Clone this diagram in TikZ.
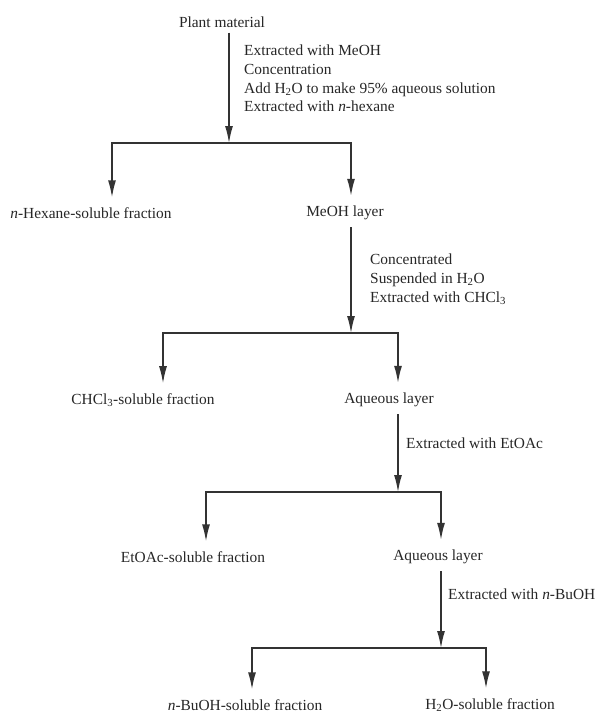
\documentclass[tikz,border=0pt]{standalone}
\usepackage{fontspec}
\setmainfont{Liberation Serif}
\usepackage{xcolor}
\usepackage{tikz}
\usetikzlibrary{arrows.meta,positioning}

\begin{document}
\begin{tikzpicture}[
  x=1pt,
  y=-1pt,
  fraction/.style={
    inner sep=0pt,
    text=black!85,
    font=\fontsize{15.4}{18}\selectfont
  },
  note/.style={
    inner sep=0pt,
    align=left,
    text=black!85,
    font=\fontsize{15.4}{18.6}\selectfont
  },
  line/.style={
    draw=black!80,
    line width=1.4pt
  },
  arrow/.style={
    line,
    -{Latex[length=17pt,width=8pt]}
  }
]
  \useasboundingbox (0,0) rectangle (595,715);

  % Plant material
  \node[fraction] (plant) at (222,22) {Plant material};
  \node[note, anchor=north west] (step1) at (244,45) {Extracted with MeOH\\Concentration\\Add H\textsubscript{2}O to make 95\% aqueous solution\\Extracted with \textit{n}-hexane};
  \coordinate (split1) at (229,143);

  % First partition
  \node[fraction] (hexane) at (91,213) {\textit{n}-Hexane-soluble fraction};
  \node[fraction] (meoh) at (345,213) {MeOH layer};
  \node[note, anchor=north west] (step2) at (370,254) {Concentrated\\Suspended in H\textsubscript{2}O\\Extracted with CHCl\textsubscript{3}};
  \coordinate (split2) at (351,333);

  % Second partition
  \node[fraction] (chcl) at (143,400) {CHCl\textsubscript{3}-soluble fraction};
  \node[fraction] (aqueous1) at (389,400) {Aqueous layer};
  \node[note, anchor=west] (step3) at (406,443) {Extracted with EtOAc};
  \coordinate (split3) at (398,492);

  % Third partition
  \node[fraction] (etoac) at (193,557) {EtOAc-soluble fraction};
  \node[fraction] (aqueous2) at (438,557) {Aqueous layer};
  \node[note, anchor=west] (step4) at (448,594) {Extracted with \textit{n}-BuOH};
  \coordinate (split4) at (441,648);

  % Fourth partition
  \node[fraction] (buoh) at (245,705) {\textit{n}-BuOH-soluble fraction};
  \node[fraction] (water) at (490,705) {H\textsubscript{2}O-soluble fraction};

  % Arrows - main flow
  \draw[arrow, shorten <=5pt] (plant.south -| split1) -- (split1);
  \draw[arrow, shorten <=7pt] (meoh.south -| split2) -- (split2);
  \draw[arrow, shorten <=7pt] (aqueous1.south -| split3) -- (split3);
  \draw[arrow, shorten <=7pt] (aqueous2.south -| split4) -- (split4);

  % Branching
  \draw[arrow, shorten >=10pt] (split1) -| ([xshift=21pt]hexane.north);
  \draw[arrow, shorten >=10pt] (split1) -| ([xshift=6pt]meoh.north);
  \draw[arrow, shorten >=10pt] (split2) -| ([xshift=20pt]chcl.north);
  \draw[arrow, shorten >=10pt] (split2) -| ([xshift=9pt]aqueous1.north);
  \draw[arrow, shorten >=10pt] (split3) -| ([xshift=13pt]etoac.north);
  \draw[arrow, shorten >=10pt] (split3) -| ([xshift=3pt]aqueous2.north);
  \draw[arrow, shorten >=10pt] (split4) -| ([xshift=7pt]buoh.north);
  \draw[arrow, shorten >=10pt] (split4) -| ([xshift=-4pt]water.north);

\end{tikzpicture}
\end{document}
